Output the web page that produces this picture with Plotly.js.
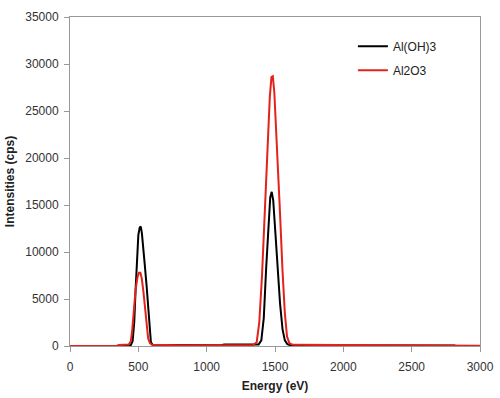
<!DOCTYPE html>
<html>
<head>
<meta charset="utf-8">
<script src="https://cdn.plot.ly/plotly-3.0.1.min.js"></script>
<style>html,body{margin:0;padding:0;background:#fff;}#chart{width:500px;height:398px;}</style>
</head>
<body>
<div id="chart"></div>
<script>
// Al(OH)3 spectrum
const energyAlOH3 = [350, 400, 430, 445, 458, 470, 480, 490, 500, 510, 518, 526, 536, 548, 561, 572, 582, 592, 605, 800, 1100, 1130, 1250, 1380, 1400, 1418, 1435, 1450, 1465, 1476, 1487, 1503, 1520, 1537, 1555, 1572, 1590, 1610, 1700, 2200, 2820];
const intensityAlOH3 = [60, 70, 80, 100, 500, 2500, 6000, 9500, 11800, 12600, 12700, 12000, 10000, 8500, 6300, 3800, 1500, 400, 120, 70, 70, 150, 160, 160, 600, 3000, 8200, 12500, 15800, 16400, 15500, 12000, 8200, 4500, 1800, 600, 200, 100, 80, 70, 60];
// Al2O3 spectrum
const energyAl2O3 = [0, 200, 340, 360, 400, 430, 445, 456, 468, 480, 495, 505, 515, 525, 537, 549, 560, 572, 585, 600, 800, 1100, 1340, 1366, 1385, 1405, 1426, 1445, 1462, 1474, 1484, 1495, 1515, 1536, 1555, 1572, 1588, 1605, 1630, 2000, 2500, 2810, 2830, 3000];
const intensityAl2O3 = [0, 0, 0, 100, 120, 150, 500, 1800, 3900, 6000, 7400, 7800, 7800, 7200, 5800, 3900, 2000, 800, 300, 120, 90, 90, 100, 400, 2500, 7500, 14350, 21000, 26500, 28600, 28700, 27000, 21500, 14350, 8000, 3500, 1000, 300, 120, 90, 90, 90, 20, 20];

const xTicks = [0, 500, 1000, 1500, 2000, 2500, 3000];
const xTickText = ['0', '500', '1000', '1500', '2000', '2500', '3000'];
const yTicks = [0, 5000, 10000, 15000, 20000, 25000, 30000, 35000];
const yTickText = ['0', '5000', '10000', '15000', '20000', '25000', '30000', '35000'];

const FONT = 'Liberation Sans, Arial, sans-serif';

const traces = [
  {x: energyAlOH3, y: intensityAlOH3, type: 'scatter', mode: 'lines', name: 'Al(OH)3', legendgroup: 'a',
   line: {color: '#000000', width: 2}},
  {x: energyAl2O3, y: intensityAl2O3, type: 'scatter', mode: 'lines', name: 'Al2O3', legendgroup: 'b',
   line: {color: '#e2231a', width: 2}}
];

const axisCommon = {
  showgrid: false, zeroline: false, showline: true, mirror: true,
  linecolor: '#999999', linewidth: 1, ticks: 'outside', ticklen: 5,
  tickcolor: '#999999', tickfont: {family: FONT, size: 12, color: '#333333'}
};

const layout = {
  width: 500, height: 398,
  margin: {l: 70, r: 20, t: 17, b: 52},
  paper_bgcolor: '#ffffff', plot_bgcolor: '#ffffff',
  showlegend: true,
  legend: {x: 0.69, y: 0.955, xanchor: 'left', yanchor: 'top', bgcolor: 'rgba(0,0,0,0)',
           traceorder: 'grouped', tracegroupgap: 5,
           font: {family: FONT, size: 12, color: '#222222'}},
  xaxis: Object.assign({}, axisCommon, {range: [0, 3000], tickvals: xTicks, ticktext: xTickText,
    ticklabelstandoff: 5,
    title: {text: '<b>Energy (eV)</b>', standoff: 8, font: {family: FONT, size: 12, color: '#222222'}}}),
  yaxis: Object.assign({}, axisCommon, {range: [0, 35000], tickvals: yTicks, ticktext: yTickText,
    ticklabelstandoff: 3,
    title: {text: '<b>Intensities (cps)</b>', standoff: 8, font: {family: FONT, size: 12, color: '#222222'}}})
};

Plotly.newPlot('chart', traces, layout, {staticPlot: true, displayModeBar: false});
</script>
</body>
</html>
